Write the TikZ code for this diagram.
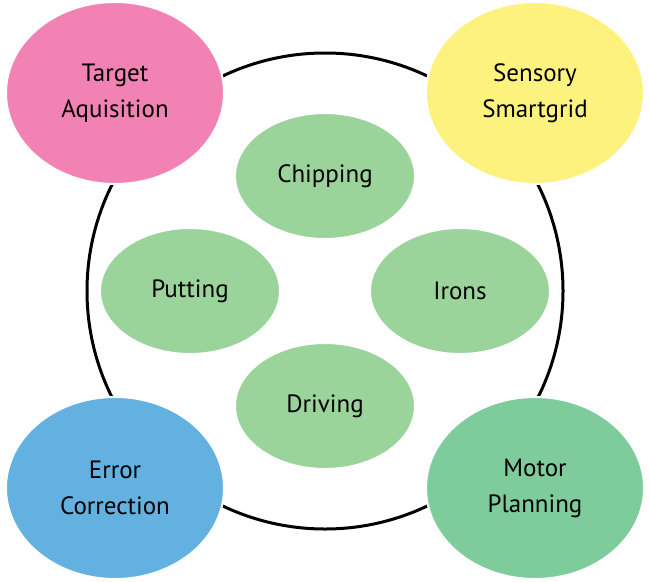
\documentclass[tikz,border=0pt]{standalone}
\usepackage{fontspec}
\setmainfont{PT Sans}
\usetikzlibrary{shapes.geometric}
\definecolor{cpink}{HTML}{F282B4}
\definecolor{cyellow}{HTML}{FEF27E}
\definecolor{cblue}{HTML}{63B1E0}
\definecolor{cgreen}{HTML}{7ECB9B}
\definecolor{cinner}{HTML}{9AD49A}
\begin{document}
\begin{tikzpicture}[x=1pt,y=-1pt,
  big/.style={ellipse,draw=white,line width=2pt,minimum width=218pt,minimum height=182pt,align=center,inner sep=0pt,font=\fontsize{25}{36}\selectfont},
  small/.style={ellipse,draw=white,line width=2pt,fill=cinner,minimum width=180pt,minimum height=126pt,align=center,inner sep=0pt,font=\fontsize{25}{36}\selectfont}]
\useasboundingbox (0,0) rectangle (650,581);
\node[circle,draw=black,line width=3pt,minimum size=476pt,inner sep=0pt] (ring) at (325,291) {};
\node[big,fill=cpink] (ta) at (115,93) {Target\\Aquisition};
\node[big,fill=cyellow] (ss) at (535,93) {Sensory\\Smartgrid};
\node[big,fill=cblue] (ec) at (115,488) {Error\\Correction};
\node[big,fill=cgreen] (mp) at (535,488) {Motor\\Planning};
\node[small] (ch) at (325,176) {Chipping};
\node[small] (pu) at (190,291) {Putting};
\node[small] (ir) at (460,291) {Irons};
\node[small] (dr) at (325,406) {Driving};
\end{tikzpicture}
\end{document}
